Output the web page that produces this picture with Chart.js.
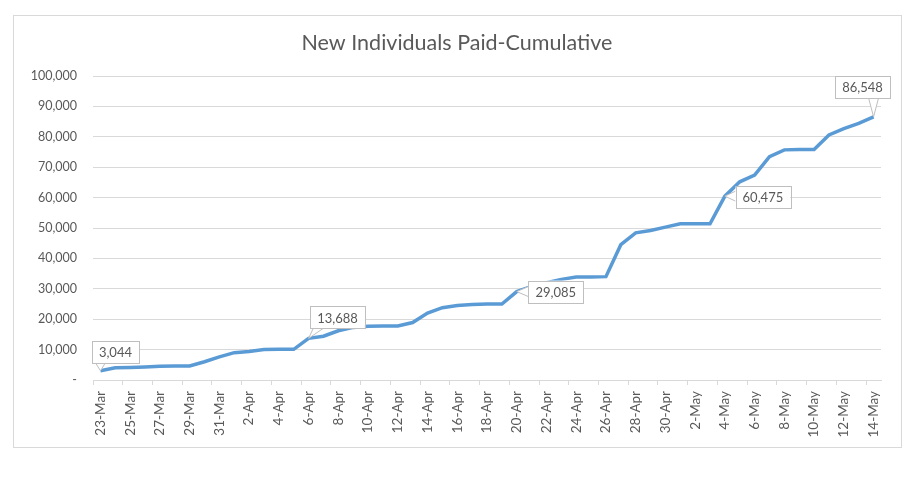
<!DOCTYPE html>
<html>
<head>
<meta charset="utf-8">
<script src="https://cdn.jsdelivr.net/npm/chart.js@4"></script>
<style>
  html, body { margin: 0; padding: 0; background: #fff; }
  #wrap { width: 922px; height: 481px; position: relative; }
</style>
</head>
<body>
<div id="wrap"><canvas id="myChart" width="922" height="481"></canvas></div>
<script>
var dates = [
  "23-Mar", "24-Mar", "25-Mar", "26-Mar", "27-Mar", "28-Mar", "29-Mar", "30-Mar", "31-Mar",
  "1-Apr", "2-Apr", "3-Apr", "4-Apr", "5-Apr", "6-Apr", "7-Apr", "8-Apr", "9-Apr", "10-Apr",
  "11-Apr", "12-Apr", "13-Apr", "14-Apr", "15-Apr", "16-Apr", "17-Apr", "18-Apr", "19-Apr", "20-Apr",
  "21-Apr", "22-Apr", "23-Apr", "24-Apr", "25-Apr", "26-Apr", "27-Apr", "28-Apr", "29-Apr", "30-Apr",
  "1-May", "2-May", "3-May", "4-May", "5-May", "6-May", "7-May", "8-May", "9-May", "10-May",
  "11-May", "12-May", "13-May", "14-May"
];
var paid = [
  3044, 4000, 4100, 4300, 4500, 4600, 4600, 6000, 7600,
  9000, 9400, 10000, 10100, 10100, 13688, 14400, 16200, 17300, 17700,
  17800, 17800, 18900, 22000, 23800, 24500, 24800, 25000, 25000, 29085,
  30800, 32000, 33100, 33900, 33900, 34000, 44500, 48400, 49200, 50300,
  51400, 51400, 51400, 60475, 65200, 67400, 73500, 75700, 75800, 75800,
  80600, 82700, 84400, 86548
];
var labelled = [0, 14, 28, 42, 52];
var chartTitle = "New Individuals Paid-Cumulative";

// callout offsets (box centre relative to point)
var calloutOffsets = { 0: [15, -19], 14: [29, -21], 28: [39, 0], 42: [38, 1], 52: [-11, -30] };

var FONT = "Lato, 'Open Sans', sans-serif";
var GREY = "#595959";

// white background, outer border and title
var frame = {
  id: "frame",
  beforeDraw: function (chart) {
    var c = chart.ctx;
    c.save();
    c.fillStyle = "#fff";
    c.fillRect(0, 0, chart.width, chart.height);
    c.strokeStyle = "#d9d9d9";
    c.lineWidth = 1;
    c.strokeRect(13.5, 15.5, 888, 432);
    c.fillStyle = GREY;
    c.font = "21.5px " + FONT;
    c.textAlign = "center";
    c.textBaseline = "middle";
    c.fillText(chartTitle, 457, 43);
    c.restore();
  }
};

var callouts = {
  id: "callouts",
  afterDatasetsDraw: function (chart) {
    var c = chart.ctx;
    var meta = chart.getDatasetMeta(0);
    c.save();
    c.font = "13px " + FONT;
    c.textAlign = "center";
    c.textBaseline = "middle";
    labelled.forEach(function (i) {
      var pt = meta.data[i];
      var off = calloutOffsets[i];
      var txt = paid[i].toLocaleString("en-US");
      var w = c.measureText(txt).width + 14;
      var h = 22;
      var cx = pt.x + off[0], cy = pt.y + off[1];
      var bx = cx - w / 2, by = cy - h / 2;
      // tail
      var ax, ay;
      if (Math.abs(off[1]) > Math.abs(off[0]) * 0.6) {
        ay = off[1] < 0 ? by + h : by;
        ax = Math.min(Math.max(pt.x, bx + 8), bx + w - 8);
        c.beginPath();
        c.moveTo(ax - 5, ay);
        c.lineTo(pt.x, pt.y);
        c.lineTo(ax + 5, ay);
      } else {
        ax = off[0] > 0 ? bx : bx + w;
        ay = Math.min(Math.max(pt.y, by + 6), by + h - 6);
        c.beginPath();
        c.moveTo(ax, ay - 5);
        c.lineTo(pt.x, pt.y);
        c.lineTo(ax, ay + 5);
      }
      c.fillStyle = "#fff";
      c.strokeStyle = "#bfbfbf";
      c.lineWidth = 1;
      c.fill();
      c.stroke();
      c.fillRect(bx, by, w, h);
      c.strokeRect(Math.round(bx) + 0.5, Math.round(by) + 0.5, Math.round(w), h);
      c.fillStyle = GREY;
      c.fillText(txt, cx, cy + 1);
    });
    c.restore();
  }
};

var ctx = document.getElementById("myChart").getContext("2d");
var chart = new Chart(ctx, {
  type: "line",
  data: {
    labels: dates,
    datasets: [
      {
        label: chartTitle,
        data: paid,
        borderColor: "#5b9bd5",
        borderWidth: 3.5,
        pointRadius: 0,
        tension: 0,
        fill: false,
      },
    ],
  },
  options: {
    responsive: false,
    animation: false,
    layout: { padding: { left: 0, right: 41, top: 76, bottom: 0 } },
    plugins: {
      legend: { display: false },
      tooltip: { enabled: false },
      title: { display: false },
    },
    scales: {
      x: {
        offset: true,
        afterFit: function (scale) { scale.height = 101; },
        grid: {
          offset: true,
          drawOnChartArea: false,
          tickLength: 5,
          color: function (c) { return c.index % 2 === 0 ? "#d9d9d9" : "rgba(0,0,0,0)"; },
        },
        border: { color: "#d9d9d9" },
        ticks: {
          autoSkip: false,
          maxRotation: 90,
          minRotation: 90,
          color: GREY,
          font: { family: FONT, size: 13.5 },
          padding: 6,
          callback: function (v, i) { return i % 2 === 0 ? dates[i] : ""; },
        },
      },
      y: {
        min: 0,
        max: 100000,
        afterFit: function (scale) { scale.width = 93; },
        grid: { color: "#d9d9d9", drawTicks: false },
        border: { display: false },
        ticks: {
          stepSize: 10000,
          padding: 16,
          color: GREY,
          font: { family: FONT, size: 12.5 },
          callback: function (v) { return v === 0 ? "-" : v.toLocaleString("en-US"); },
        },
      },
    },
  },
  plugins: [frame, callouts],
});
</script>
</body>
</html>
